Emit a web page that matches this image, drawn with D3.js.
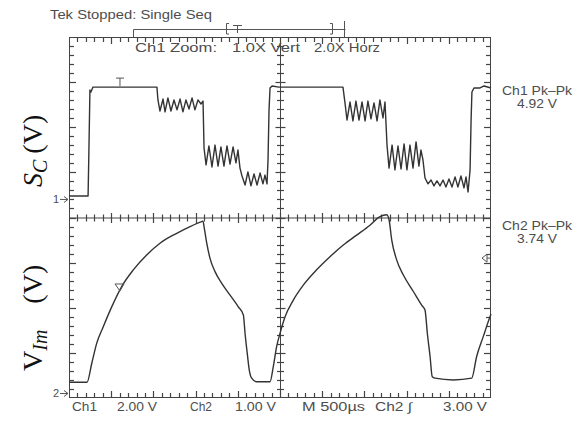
<!DOCTYPE html>
<html>
<head>
<meta charset="utf-8">
<script src="https://cdn.jsdelivr.net/npm/d3@7"></script>
<style>
  body { margin: 0; background: #fff; }
  svg { display: block; }
</style>
</head>
<body>
<svg id="scope" width="581" height="426"></svg>
<script>
// Acquisition settings (500 µs/div at 2.0X horizontal zoom -> 250 µs/div, 10 div)
const timeSpanUs = 2500;
const gridDivX = 10;
const gridDivY = 8;
const ch1VoltsPerDiv = 2.0;
const ch2VoltsPerDiv = 1.0;
const ch1GroundDiv = 4.4;   // ground marker "1", divisions above bottom
const ch2GroundDiv = 0.1;   // ground marker "2"
const ch2TriggerLevel = 3.0;
const triggerTimeUs = 302;

// Ch1 trace: [time µs, volts]
const ch1Trace = [
  [0,0.15],[113,0.15],[118,2.19],[124,4.85],[130,4.76],[142,4.98],[302,4.98],[521,4.98],
  [527,4.41],[539,3.92],[557,4.45],[569,3.88],[586,4.50],[604,3.92],[622,4.41],[640,3.97],
  [658,4.45],[675,3.88],[693,4.41],[711,4.01],[729,4.50],[746,3.97],[764,4.41],[782,4.23],[794,4.36],
  [800,2.28],
  [812,1.53],[829,2.37],[847,1.44],[865,2.41],[883,1.48],[900,2.33],[918,1.48],[936,2.37],
  [954,1.57],[972,2.33],[989,1.62],[1001,2.19],[1013,1.39],
  [1025,1.04],[1043,0.64],[1060,1.22],[1078,0.60],[1096,1.13],[1114,0.64],[1132,1.17],
  [1149,0.69],[1161,1.08],[1173,0.69],
  [1179,1.75],[1185,3.97],[1191,4.94],[1203,5.03],[1244,4.98],
  [1623,4.98],[1635,4.28],
  [1647,3.52],[1665,4.32],[1682,3.48],[1700,4.36],[1718,3.52],[1736,4.32],[1754,3.48],
  [1771,4.36],[1789,3.57],[1807,4.28],[1825,3.48],[1842,4.41],[1860,3.61],[1872,4.32],
  [1884,2.41],
  [1896,1.39],[1914,2.41],[1931,1.31],[1949,2.37],[1967,1.35],[1985,2.46],[2002,1.31],
  [2020,2.41],[2038,1.39],[2056,2.55],[2073,1.48],[2085,2.19],
  [2097,1.75],[2109,0.95],
  [2127,0.69],[2145,0.86],[2162,0.60],[2180,0.82],[2198,0.60],[2216,0.86],[2233,0.55],
  [2251,0.91],[2269,0.55],[2287,1.00],[2304,0.55],[2322,1.04],[2340,0.51],[2352,1.00],[2364,0.33],
  [2376,1.31],[2382,3.52],[2387,4.76],[2399,4.94],[2435,4.94],[2459,5.03],[2500,4.94]
];

// Ch2 trace: [time µs, volts]
const ch2Trace = [
  [0,0.25],[107,0.25],[135,0.67],[164,1.11],[203,1.48],[253,1.92],[312,2.37],[381,2.74],
  [460,3.07],[539,3.33],[638,3.55],[717,3.70],[786,3.81],[794,3.82],
  [800,3.70],[816,3.33],[835,3.00],[865,2.70],[905,2.44],[954,2.18],[1003,1.92],[1033,1.74],
  [1043,1.33],[1056,0.89],[1068,0.52],[1082,0.34],[1112,0.26],[1191,0.26],
  [1210,0.59],[1230,1.04],[1250,1.33],[1280,1.70],[1329,2.07],[1388,2.40],[1467,2.74],
  [1546,3.03],[1625,3.29],[1704,3.51],[1783,3.73],[1842,3.92],[1882,3.96],
  [1896,3.85],[1912,3.40],[1941,2.96],[1980,2.63],[2040,2.26],[2089,1.96],[2109,1.85],
  [2123,1.33],[2139,0.82],[2152,0.37],[2168,0.34],[2277,0.30],[2386,0.34],
  [2415,0.82],[2454,1.26],[2494,1.70],[2500,1.76]
];

const headerText = "Tek Stopped: Single Seq";
const zoomTexts = ["Ch1 Zoom:", "1.0X Vert", "2.0X Horz"];
const footerTexts = ["Ch1", "2.00 V", "Ch2", "1.00 V", "M 500µs", "Ch2 ∫", "3.00 V"];
const measureNames = ["Ch1 Pk–Pk", "Ch2 Pk–Pk"];
const measureValues = ["4.92 V", "3.74 V"];

const svg = d3.select("#scope");
const frame = { left: 69, right: 491, top: 37, bottom: 398 };

const x = d3.scaleLinear().domain([0, timeSpanUs]).range([frame.left, frame.right]);
const gx = d3.scaleLinear().domain([0, gridDivX]).range([frame.left, frame.right]);
const gy = d3.scaleLinear().domain([0, gridDivY]).range([frame.bottom, frame.top]);
const y1 = d3.scaleLinear()
  .domain([-ch1GroundDiv * ch1VoltsPerDiv, (gridDivY - ch1GroundDiv) * ch1VoltsPerDiv])
  .range([frame.bottom, frame.top]);
const y2 = d3.scaleLinear()
  .domain([-ch2GroundDiv * ch2VoltsPerDiv, (gridDivY - ch2GroundDiv) * ch2VoltsPerDiv])
  .range([frame.bottom, frame.top]);

const ink = "#333";
const textInk = "#4d4d4d";
const scopeFont = "'Liberation Sans', Arial, sans-serif";

// Graticule frame
const grat = svg.append("g").attr("stroke", "#444").attr("stroke-width", 1.2).attr("fill", "none");
grat.append("rect")
  .attr("x", frame.left + 0.5).attr("y", frame.top + 0.5)
  .attr("width", frame.right - frame.left - 1).attr("height", frame.bottom - frame.top - 1)
  .attr("stroke-width", 1);

const isMajor = v => Math.abs(v - Math.round(v)) < 1e-6;
const xSteps = d3.range(1, gridDivX * 5).map(i => i / 5);
const ySteps = d3.range(1, gridDivY * 5).map(i => i / 5);
const cx = gx(gridDivX / 2), cy = gy(gridDivY / 2);

// center cross
grat.append("line").attr("x1", frame.left).attr("x2", frame.right).attr("y1", cy + 0.5).attr("y2", cy + 0.5).attr("stroke-width", 1);
grat.append("line").attr("x1", cx + 0.5).attr("x2", cx + 0.5).attr("y1", frame.top).attr("y2", frame.bottom).attr("stroke-width", 1);

// graticule ticks, 5 per division on the border and along the center cross
const px = v => Math.round(gx(v)) + 0.5;
const py = v => Math.round(gy(v)) + 0.5;
const borderLen = v => isMajor(v) ? 7 : 5;
const crossLen = v => isMajor(v) ? 5 : 3.5;

grat.append("g").selectAll("line").data(xSteps).join("line")
  .attr("x1", px).attr("x2", px).attr("y1", frame.top).attr("y2", v => frame.top + borderLen(v));
grat.append("g").selectAll("line").data(xSteps).join("line")
  .attr("x1", px).attr("x2", px).attr("y1", frame.bottom).attr("y2", v => frame.bottom - borderLen(v));
grat.append("g").selectAll("line").data(xSteps).join("line")
  .attr("x1", px).attr("x2", px).attr("y1", v => cy + 0.5 - crossLen(v)).attr("y2", v => cy + 0.5 + crossLen(v));
grat.append("g").selectAll("line").data(ySteps).join("line")
  .attr("y1", py).attr("y2", py).attr("x1", frame.left).attr("x2", v => frame.left + borderLen(v));
grat.append("g").selectAll("line").data(ySteps).join("line")
  .attr("y1", py).attr("y2", py).attr("x1", frame.right).attr("x2", v => frame.right - borderLen(v));
grat.append("g").selectAll("line").data(ySteps).join("line")
  .attr("y1", py).attr("y2", py).attr("x1", v => cx + 0.5 - crossLen(v)).attr("x2", v => cx + 0.5 + crossLen(v));

// Traces
const line1 = d3.line().x(d => x(d[0])).y(d => y1(d[1]));
const line2 = d3.line().x(d => x(d[0])).y(d => y2(d[1])).curve(d3.curveMonotoneX);
svg.append("path").datum(ch1Trace).attr("d", line1)
  .attr("fill", "none").attr("stroke", ink).attr("stroke-width", 1.4).attr("stroke-linejoin", "round");
svg.append("path").datum(ch2Trace).attr("d", line2)
  .attr("fill", "none").attr("stroke", ink).attr("stroke-width", 1.4).attr("stroke-linejoin", "round");

// Trigger position markers
const tx = x(triggerTimeUs);
const marks = svg.append("g").attr("stroke", "#555").attr("fill", "none").attr("stroke-width", 1);
marks.append("path").attr("d", `M${tx - 4},${y1(4.98) - 9}h8M${tx},${y1(4.98) - 9}v8`);
const ty2 = d3.scaleLinear().domain(ch2Trace.map(d => d[0])).range(ch2Trace.map(d => d[1]))(triggerTimeUs);
marks.append("path").attr("d", `M${tx - 5},${y2(ty2) - 6}h9l-4,7z`);

// Trigger level arrow (Ch2)
const tl = y2(ch2TriggerLevel);
marks.append("path").attr("d", `M${frame.right - 9},${tl}l5,-4v8z M${frame.right - 4},${tl}h3`);

// Ground reference markers
[[y1(0), "1"], [y2(0), "2"]].forEach(([gyPos, lbl]) => {
  svg.append("text").attr("x", 59).attr("y", gyPos + 4).attr("text-anchor", "end")
    .attr("font-family", scopeFont).attr("font-size", 11).attr("fill", textInk).text(lbl);
  marks.append("path").attr("d", `M60,${gyPos}h8M64,${gyPos - 3}l4,3l-4,3`);
});

// Record / zoom window bar
marks.append("path").attr("d",
  "M133.5,29.5H345.5M133.5,29.5V37M229,23.5H226.5V34H229M233,25.5H242M237.5,25.5V33" +
  "M330,23.5H332.5V34H330M344.5,21V37");

// Text
function scopeText(str, xPos, yPos, width, anchor) {
  const t = svg.append("text").attr("x", xPos).attr("y", yPos)
    .attr("font-family", scopeFont).attr("font-size", 12).attr("fill", textInk)
    .attr("text-anchor", anchor || "start").text(str);
  if (width) t.attr("textLength", width).attr("lengthAdjust", "spacingAndGlyphs");
  return t;
}
scopeText(headerText, 50, 19, 162);
const zoomX = [135, 232, 314], zoomW = [82, 68, 66];
zoomTexts.forEach((s, i) => scopeText(s, zoomX[i], 52, zoomW[i]));
const footX = [72, 117, 190, 235, 302, 375, 443], footW = [25, 40, 22, 41, 63, 37, 44];
footerTexts.forEach((s, i) => scopeText(s, footX[i], 411, footW[i]));
const measY = [95, 230];
measureNames.forEach((s, i) => {
  scopeText(s, 537, measY[i], 70, "middle");
  scopeText(measureValues[i], 537, measY[i] + 13, 40, "middle");
});

// Channel titles
const serif = "'Liberation Serif', 'Times New Roman', serif";
const t1 = svg.append("text").attr("transform", "translate(42,187) rotate(-90)")
  .attr("font-family", serif).attr("font-size", 28).attr("fill", "#111");
t1.append("tspan").attr("font-style", "italic").text("S");
t1.append("tspan").attr("font-style", "italic").attr("font-size", 20).attr("dy", 5).text("C");
t1.append("tspan").attr("dy", -5).attr("dx", 6).text("(V)");

const t2 = svg.append("text").attr("transform", "translate(42,371) rotate(-90)")
  .attr("font-family", serif).attr("font-size", 28).attr("fill", "#111");
t2.append("tspan").text("V");
t2.append("tspan").attr("font-style", "italic").attr("font-size", 20).attr("dy", 5).text("Im");
t2.append("tspan").attr("dy", -5).attr("dx", 26).text("(V)");
</script>
</body>
</html>
